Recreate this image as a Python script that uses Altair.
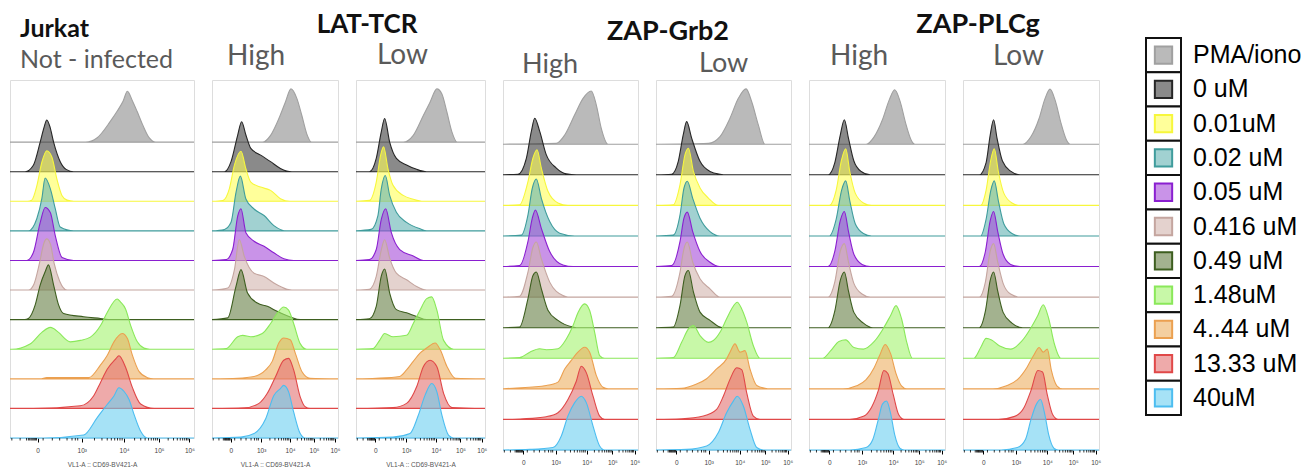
import math
import altair as alt
import pandas as pd

CONCENTRATIONS = ["PMA/iono", "0 uM", "0.01uM", "0.02 uM", "0.05 uM", "0.416 uM",
                  "0.49 uM", "1.48uM", "4..44 uM", "13.33 uM", "40uM"]
FILL_COLORS = ["#8c8c8c", "#3c3c3c", "#ffff57", "#62b3b3", "#a54bd9", "#d2b4ad",
               "#667f44", "#a3f36e", "#edaf61", "#e37171", "#6bcff0"]
STROKE_COLORS = ["#a0a0a0", "#262626", "#f7f73c", "#3f9c9c", "#8a1fd0", "#c4a59f",
                 "#3d5e1f", "#8ae85a", "#eba050", "#e04848", "#4cbdf0"]

TICK_POSITIONS = [15, 39, 62, 81, 97.5]
TICK_LABELS = ["0", "10³", "10⁴", "10⁵", "10⁶"]
AXIS_TITLE = "VL1-A :: CD69-BV421-A"
GROUP_TITLES = ["Jurkat", "LAT-TCR", "ZAP-Grb2", "ZAP-PLCg"]
SUB_TITLES = ["Not - infected", "High", "Low", "High", "Low", "High", "Low"]

# each curve: (x position in axis units 0-100, height in row units), rows in CONCENTRATIONS order
JURKAT = [
    [(41, 0), (47.4, 0.15), (54.6, 0.71), (58.3, 1.05), (61.5, 1.39), (63.8, 1.72), (66.5, 1.4), (69, 1.05), (72, 0.6), (75.6, 0.15), (79.2, 0)],
    [(8.2, 0), (12.7, 0.22), (16.4, 1.0), (18.5, 1.5), (20, 1.75), (21.8, 1.5), (23.7, 1.0), (27.3, 0.34), (30.5, 0.08), (34.6, 0)],
    [(9.5, 0), (11.8, 0.04), (14.6, 0.53), (17.3, 1.32), (20, 1.71), (22.8, 1.49), (25.5, 0.75), (28.3, 0.19), (31, 0.04), (34.6, 0)],
    [(10, 0), (14.6, 0.42), (17.3, 1.09), (19.1, 1.79), (21.9, 1.43), (24.6, 0.75), (27.3, 0.13), (34.6, 0)],
    [(9.1, 0), (12.7, 0.27), (16.4, 1.28), (19.1, 1.79), (21.9, 1.62), (24.6, 0.84), (28.3, 0.1), (34.6, 0)],
    [(10, 0), (13, 0.2), (16, 0.9), (18.5, 1.6), (20, 1.73), (22, 1.55), (24, 0.9), (27, 0.3), (31, 0)],
    [(8, 0), (10, 0.04), (13.7, 0.5), (16.4, 1.17), (19.1, 1.62), (20.9, 1.85), (23.7, 1.17), (26.4, 0.5), (29.1, 0.21), (40, 0.1), (49.2, 0.04), (55, 0)],
    [(0.9, 0), (10.9, 0.18), (17.3, 0.57), (21.9, 0.74), (23.7, 0.7), (26.4, 0.57), (32.8, 0.25), (38.3, 0.3), (43.7, 0.41), (49.2, 0.8), (52.9, 1.25), (58.3, 1.7), (60, 1.6), (62.8, 1.36), (65.6, 0.8), (69.2, 0.25), (72.8, 0.04), (76, 0)],
    [(16.4, 0), (20, 0.04), (42.8, 0.04), (49.2, 0.47), (52.9, 0.8), (56.5, 1.25), (61, 1.53), (63.8, 1.36), (66.5, 0.8), (70.1, 0.25), (74.7, 0.04), (78, 0)],
    [(12.7, 0), (38.3, 0.09), (45.5, 0.43), (49.2, 0.88), (52.9, 1.33), (57.4, 1.67), (59.2, 1.78), (62.8, 1.39), (66.5, 0.71), (71, 0.15), (78.3, 0)],
    [(18.2, 0), (40, 0.1), (47.4, 0.69), (52.9, 1.14), (56.5, 1.42), (59.2, 1.7), (61.9, 1.58), (64.7, 1.3), (67.4, 0.8), (71, 0.23), (74.7, 0)],
]

LAT_HIGH = [
    [(40, 0), (46.5, 0.23), (53, 0.79), (58.2, 1.35), (62.7, 1.8), (67.4, 1.47), (71.3, 0.9), (75.2, 0.28), (79, 0)],
    [(9.9, 0), (15.1, 0.34), (20.4, 1.24), (23.5, 1.69), (26.9, 1.24), (30.8, 0.79), (38.6, 0.56), (46.5, 0.34), (54.3, 0.11), (63.4, 0)],
    [(8.6, 0.03), (13.8, 0.43), (17.8, 1.22), (23, 1.69), (26.9, 1.1), (30.8, 0.65), (38.6, 0.48), (46.5, 0.37), (54.3, 0.09), (62, 0)],
    [(9.9, 0.05), (15.1, 0.29), (19.1, 1.31), (22.5, 1.85), (26.9, 1.08), (33.4, 0.74), (41.3, 0.52), (49.1, 0.18), (59.5, 0)],
    [(11.2, 0.03), (16.4, 0.37), (20.4, 1.5), (23, 1.75), (26.9, 0.94), (33.4, 0.65), (41.3, 0.48), (49.1, 0.26), (57, 0.06), (64.8, 0)],
    [(12.5, 0.07), (17.8, 0.69), (21.7, 1.7), (25.6, 1.14), (33.4, 0.57), (41.3, 0.46), (49.1, 0.24), (59.5, 0.03), (63.4, 0)],
    [(12.5, 0.06), (19.1, 1.13), (23, 1.69), (28.2, 0.9), (36, 0.56), (43.9, 0.45), (51.7, 0.28), (62.1, 0.09), (70, 0)],
    [(11.2, 0.02), (20.4, 0.42), (24.3, 0.47), (30.8, 0.42), (39.9, 0.53), (46.5, 0.87), (51.7, 1.21), (56.9, 1.43), (60.8, 1.32), (64.8, 0.87), (70, 0.19), (75.2, 0)],
    [(20.4, 0.02), (33.4, 0.08), (42.6, 0.3), (47.8, 0.59), (53, 1.21), (56.9, 1.38), (62.1, 1.32), (66.1, 0.87), (71.3, 0.25), (77.8, 0.02)],
    [(25.6, 0.02), (37.3, 0.17), (43.9, 0.51), (50.4, 1.07), (56.9, 1.63), (60.8, 1.69), (64.8, 1.3), (70, 0.39), (73.9, 0.06), (77.8, 0)],
    [(23, 0.03), (33.4, 0.15), (42.6, 0.65), (49.1, 1.44), (54.3, 1.67), (56.9, 1.78), (60.8, 1.56), (64.8, 0.88), (70, 0.15), (73.9, 0)],
]

LAT_LOW = [
    [(36.6, 0), (44.4, 0.23), (52.2, 0.9), (57.4, 1.35), (62.7, 1.8), (66.6, 1.63), (70.5, 1.01), (74.4, 0.34), (78.3, 0)],
    [(10.4, 0), (15.7, 0.45), (19.6, 1.35), (22.2, 1.8), (26.1, 1.0), (31.3, 0.45), (39.2, 0.23), (47, 0.08), (54.8, 0)],
    [(10.4, 0.03), (15.7, 0.65), (19.1, 1.56), (21.4, 1.84), (24.8, 1.1), (28.7, 0.54), (36.6, 0.2), (44.4, 0.07), (52.2, 0)],
    [(11.7, 0.05), (17, 0.52), (19.6, 1.42), (22.7, 1.87), (26.1, 1.2), (31.3, 0.63), (39.2, 0.29), (49.6, 0.07), (54.8, 0)],
    [(10.4, 0.03), (15.7, 0.37), (19.6, 1.39), (23, 1.75), (27.4, 0.94), (33.9, 0.37), (44.4, 0.15), (52.2, 0)],
    [(10.4, 0.03), (15.7, 0.46), (19.6, 1.36), (22.2, 1.7), (26.1, 1.08), (31.3, 0.57), (39.2, 0.35), (47, 0.12), (54.8, 0)],
    [(10.4, 0.03), (15.7, 0.45), (19.6, 1.47), (22.2, 1.71), (26.1, 0.9), (31.3, 0.34), (39.2, 0.23), (47, 0.11), (54.8, 0)],
    [(13.1, 0.02), (18.3, 0.3), (22.2, 0.53), (28.7, 0.42), (39.2, 0.47), (44.4, 0.87), (49.6, 1.32), (54.8, 1.71), (58.7, 1.77), (62.7, 1.32), (67.9, 0.3), (75.7, 0)],
    [(15.7, 0.02), (33.9, 0.08), (39.2, 0.3), (44.4, 0.59), (49.6, 0.87), (54.8, 1.04), (61.4, 1.21), (65.3, 0.98), (70.5, 0.42), (77, 0.02)],
    [(28.7, 0.03), (39.2, 0.17), (47, 0.73), (52.2, 1.41), (57.4, 1.63), (62.7, 1.41), (67.9, 0.51), (74.4, 0.03)],
    [(28.7, 0.03), (41.8, 0.15), (48.3, 0.77), (53.5, 1.44), (58.7, 1.84), (62.7, 1.56), (66.6, 0.77), (71.8, 0.09), (75.7, 0)],
]

GRB2_HIGH = [
    [(39.5, 0.03), (45.7, 0.3), (53.1, 0.96), (59.3, 1.5), (65.4, 1.74), (69.1, 1.29), (72.8, 0.52), (77.8, 0)],
    [(11.1, 0.02), (17.3, 0.54), (21, 1.42), (23.5, 1.85), (27.2, 1.42), (32.1, 0.65), (39.5, 0.22), (46.9, 0.03), (54.3, 0)],
    [(12.3, 0.02), (18.5, 0.78), (22.2, 1.55), (25.2, 1.82), (28.4, 1.22), (33.3, 0.46), (40.7, 0.08), (48.1, 0)],
    [(13.6, 0.03), (18.5, 0.69), (21.7, 1.56), (24.7, 1.86), (28.4, 1.23), (34.6, 0.47), (42, 0.09), (53.1, 0)],
    [(12.3, 0.03), (18.5, 0.82), (21.7, 1.58), (24, 1.85), (28.4, 1.25), (34.6, 0.49), (44.4, 0.05), (51.9, 0)],
    [(12.3, 0.03), (18.5, 0.82), (22.2, 1.63), (24.7, 1.8), (28.4, 1.25), (34.6, 0.49), (44.4, 0.05), (48.1, 0)],
    [(12.3, 0.02), (18.5, 0.95), (22.2, 1.71), (24.7, 1.82), (28.4, 1.27), (33.3, 0.57), (40.7, 0.24), (51.9, 0.02), (54.3, 0)],
    [(12.3, 0.02), (19.8, 0.2), (27.2, 0.31), (32.1, 0.28), (40.7, 0.31), (46.9, 0.63), (51.9, 1.07), (55.6, 1.5), (60.5, 1.78), (64.2, 1.56), (67.9, 0.85), (71.6, 0.09), (75.3, 0)],
    [(7.4, 0.02), (32.1, 0.11), (40.7, 0.22), (45.7, 0.65), (50.6, 0.93), (54.3, 1.14), (60.5, 1.36), (64.2, 1.2), (69.1, 0.44), (74.1, 0.05), (77.8, 0)],
    [(14.8, 0.02), (32.1, 0.09), (40.7, 0.22), (48.1, 0.65), (54.3, 1.25), (58, 1.74), (61.7, 1.53), (66.7, 0.76), (71.6, 0.11), (75.3, 0)],
    [(19.8, 0.02), (37, 0.08), (43.2, 0.46), (48.1, 1.11), (53.1, 1.55), (58, 1.76), (61.7, 1.55), (66.7, 0.78), (71.6, 0.13), (75.3, 0)],
]

GRB2_LOW = [
    [(38.8, 0.03), (47.4, 0.25), (54.8, 0.85), (61, 1.5), (66.7, 1.81), (70.9, 1.39), (75.8, 0.63), (80.7, 0)],
    [(11.6, 0.02), (16.5, 0.44), (20.2, 1.31), (22.7, 1.74), (26.4, 1.2), (32.6, 0.44), (40, 0.11), (47.4, 0.02), (52.3, 0)],
    [(12.8, 0.02), (17.8, 0.68), (21.5, 1.66), (24, 1.87), (27.7, 1.11), (32.6, 0.57), (38.8, 0.24), (46.2, 0)],
    [(12.8, 0.03), (17.8, 0.69), (20.7, 1.56), (23.2, 1.79), (27.2, 1.23), (32.6, 0.58), (40, 0.14), (47.4, 0)],
    [(11.6, 0.03), (17.8, 0.82), (20.7, 1.58), (23.2, 1.78), (27.2, 1.14), (32.6, 0.49), (40, 0.14), (47.4, 0)],
    [(11.6, 0.03), (17.8, 0.82), (20.7, 1.58), (23.2, 1.8), (27.2, 1.14), (32.6, 0.6), (40, 0.27), (47.4, 0)],
    [(12.8, 0.02), (17.8, 0.73), (21.5, 1.71), (24, 1.87), (27.7, 1.17), (32.6, 0.51), (40, 0.24), (47.4, 0.02), (49.9, 0)],
    [(12.8, 0.02), (19, 0.52), (24, 0.96), (27.7, 1.07), (32.6, 0.74), (38.8, 0.52), (42.5, 0.58), (47.4, 0.85), (52.3, 1.29), (56, 1.61), (60.2, 1.83), (63.5, 1.61), (67.2, 1.18), (72.1, 0.41), (77, 0)],
    [(19, 0.02), (30.1, 0.16), (37.5, 0.33), (44.9, 0.65), (52.3, 0.98), (54.8, 1.2), (58.5, 1.47), (62.2, 1.2), (65.9, 1.25), (69.6, 0.65), (74.6, 0.11), (80.7, 0.02), (84.4, 0)],
    [(19, 0.02), (35.1, 0.11), (44.9, 0.33), (49.9, 0.76), (54.8, 1.31), (59.8, 1.69), (63.5, 1.63), (67.2, 0.87), (72.1, 0.11), (77, 0)],
    [(22.7, 0.02), (37.5, 0.13), (46.2, 0.57), (52.3, 1.22), (57.3, 1.6), (60.2, 1.76), (64.7, 1.44), (69.6, 0.68), (74.6, 0.08), (79.5, 0)],
]

PLCG_HIGH = [
    [(42, 0), (48, 0.25), (54, 0.8), (59, 1.45), (63, 1.78), (67, 1.4), (71, 0.7), (75, 0.15), (78, 0)],
    [(14, 0), (19, 0.4), (23, 1.3), (26, 1.8), (29, 1.2), (33, 0.45), (38, 0.12), (45, 0)],
    [(15, 0), (20, 0.5), (24, 1.5), (27, 1.85), (30, 1.1), (34, 0.4), (40, 0.08), (46, 0)],
    [(15, 0), (20, 0.55), (24, 1.5), (27, 1.8), (30, 1.15), (34, 0.4), (40, 0.08), (46, 0)],
    [(14, 0), (19, 0.5), (23, 1.5), (26, 1.8), (29, 1.15), (33, 0.4), (39, 0.07), (45, 0)],
    [(14, 0), (19, 0.5), (23, 1.5), (26, 1.75), (29, 1.15), (33, 0.45), (39, 0.1), (45, 0)],
    [(14, 0), (19, 0.55), (23, 1.55), (26, 1.82), (29, 1.2), (33, 0.5), (40, 0.15), (47, 0)],
    [(10, 0), (16, 0.25), (22, 0.55), (27, 0.6), (33, 0.35), (40, 0.3), (48, 0.55), (55, 1.0), (60, 1.4), (64, 1.72), (68, 1.3), (72, 0.5), (76, 0)],
    [(25, 0), (35, 0.1), (42, 0.3), (48, 0.7), (52, 1.1), (56, 1.45), (60, 1.15), (64, 0.5), (68, 0.1), (72, 0)],
    [(30, 0), (40, 0.1), (46, 0.4), (51, 0.95), (55, 1.6), (58, 1.5), (62, 0.8), (66, 0.15), (70, 0)],
    [(30, 0), (42, 0.08), (47, 0.35), (51, 1.0), (54, 1.5), (57, 1.6), (60, 1.2), (63, 0.5), (67, 0.05), (70, 0)],
]

PLCG_LOW = [
    [(44, 0), (50, 0.25), (56, 0.85), (60, 1.45), (64, 1.8), (68, 1.4), (72, 0.7), (76, 0.15), (79, 0)],
    [(12, 0), (17, 0.4), (20, 1.3), (22.5, 1.8), (25, 1.2), (29, 0.45), (35, 0.12), (42, 0)],
    [(13, 0), (17, 0.5), (20.5, 1.5), (23, 1.85), (26, 1.1), (30, 0.4), (36, 0.08), (42, 0)],
    [(13, 0), (17, 0.55), (20.5, 1.5), (23, 1.8), (26, 1.15), (30, 0.4), (36, 0.08), (42, 0)],
    [(12, 0), (16.5, 0.5), (20, 1.5), (22.5, 1.8), (25.5, 1.15), (29.5, 0.4), (35, 0.07), (42, 0)],
    [(12, 0), (16.5, 0.5), (20, 1.5), (22.5, 1.75), (25.5, 1.15), (29.5, 0.45), (35, 0.1), (42, 0)],
    [(12, 0), (16.5, 0.55), (20, 1.55), (22.5, 1.82), (25.5, 1.2), (29.5, 0.5), (36, 0.15), (44, 0)],
    [(8, 0), (13, 0.35), (17, 0.65), (21, 0.6), (27, 0.4), (35, 0.3), (43, 0.55), (50, 1.0), (55, 1.4), (59, 1.75), (63, 1.3), (67, 0.5), (72, 0)],
    [(22, 0), (32, 0.1), (40, 0.3), (47, 0.7), (52, 1.1), (56, 1.35), (59, 1.2), (62, 1.3), (65, 0.6), (69, 0.1), (73, 0)],
    [(26, 0), (38, 0.1), (45, 0.4), (50, 0.95), (55, 1.6), (58.5, 1.55), (62, 0.8), (66, 0.15), (70, 0)],
    [(28, 0), (40, 0.08), (46, 0.35), (50, 1.0), (54, 1.5), (57, 1.65), (60, 1.2), (63, 0.5), (67, 0.05), (70, 0)],
]

# minor axis ticks (axis decoration, not data)
MINOR_TICKS = [1, 5.5, 9, 10, 10.7, 11.4, 12, 12.6, 13.2, 13.8, 14.4, 18, 23, 27, 31, 33.7, 35.5, 36.8]
for k in range(2, 10):
    MINOR_TICKS += [39 + 23 * math.log10(k), 62 + 19 * math.log10(k), 81 + 16.5 * math.log10(k)]

n = len(CONCENTRATIONS)
fill_scale = alt.Scale(domain=CONCENTRATIONS, range=FILL_COLORS)
stroke_scale = alt.Scale(domain=CONCENTRATIONS, range=STROKE_COLORS)
label_expr = ("[" + ",".join("'%s'" % t for t in TICK_LABELS) + "][indexof(["
              + ",".join(str(p) for p in TICK_POSITIONS) + "], datum.value)]")

BOLD = {"font": "Lato", "fontWeight": "bold", "color": "#111"}
GREY = {"font": "Lato", "fontWeight": "normal", "color": "#5a5a5a"}


def label_layer(text, x, y, size, style, align="left"):
    return alt.Chart(pd.DataFrame({"t": [text]})).mark_text(
        fontSize=size, align=align, baseline="alphabetic", **style).encode(
        x=alt.value(x), y=alt.value(y), text="t:N")


def make_panel(curves, width, height, with_title, labels):
    rows = []
    for r, (label, curve) in enumerate(zip(CONCENTRATIONS, curves)):
        base = n - 1 - r
        pts = [(0, 0)] + list(curve) + [(100, 0)]
        for x, h in pts:
            rows.append({"series": label, "order": r, "x": x, "y": base + h, "y0": base})
    df = pd.DataFrame(rows)
    xscale = alt.Scale(domain=[0, 100], nice=False, zero=False)
    axis = alt.Axis(values=TICK_POSITIONS, labelExpr=label_expr, domain=False,
                    ticks=True, tickSize=4, tickColor="#000", tickWidth=1,
                    labelFontSize=6.5, labelColor="#444", labelFont="Liberation Sans",
                    labelPadding=5, grid=False, labelAngle=0,
                    title=AXIS_TITLE if with_title else " ",
                    titleFontSize=6.5, titleFontWeight="normal", titleColor="#555",
                    titleFont="Liberation Sans", titlePadding=8)
    areas = alt.Chart(df).mark_area(interpolate="monotone", fillOpacity=0.6, strokeWidth=1.1).encode(
        x=alt.X("x:Q", scale=xscale, axis=axis),
        y=alt.Y("y:Q", scale=alt.Scale(domain=[0, 12.1], nice=False, zero=False), axis=None, stack=None),
        y2="y0:Q",
        fill=alt.Fill("series:N", scale=fill_scale, legend=None),
        stroke=alt.Stroke("series:N", scale=stroke_scale, legend=None),
    )
    minor = alt.Chart(pd.DataFrame({"x": MINOR_TICKS})).mark_rule(color="#000", strokeWidth=0.8).encode(
        x=alt.X("x:Q", scale=xscale, axis=axis),
        y=alt.value(height),
        y2=alt.value(height + 2.5),
    )
    layers = [areas, minor] + [label_layer(*lab) for lab in labels]
    return alt.layer(*layers).properties(width=width, height=height)


p1 = make_panel(JURKAT, 184, 358, True, [
    (GROUP_TITLES[0], 10, -43, 25, BOLD),
    (SUB_TITLES[0], 10, -12, 25, GREY)])
p2 = make_panel(LAT_HIGH, 126, 358, True, [
    (GROUP_TITLES[1], 155, -47, 26, BOLD, "center"),
    (SUB_TITLES[1], 15, -15, 28, GREY)])
p3 = make_panel(LAT_LOW, 129, 358, True, [
    (SUB_TITLES[2], 21, -16, 28, GREY)])
p4 = make_panel(GRB2_HIGH, 135, 370, False, [
    (GROUP_TITLES[2], 165, -40, 27, BOLD, "center"),
    (SUB_TITLES[3], 19, -7, 27, GREY)])
p5 = make_panel(GRB2_LOW, 135, 370, False, [
    (SUB_TITLES[4], 43, -8, 27, GREY)])
p6 = make_panel(PLCG_HIGH, 136, 370, False, [
    (GROUP_TITLES[3], 169, -47, 27, BOLD, "center"),
    (SUB_TITLES[5], 21, -15, 28, GREY)])
p7 = make_panel(PLCG_LOW, 136, 370, False, [
    (SUB_TITLES[6], 30, -15, 28, GREY)])

# legend panel
leg_df = pd.DataFrame({"label": CONCENTRATIONS, "k": list(range(n))})
leg_df["top"] = leg_df["k"] - 0.5
leg_df["bot"] = leg_df["k"] + 0.5
leg_y = alt.Scale(domain=[0.7256, 11.52], reverse=True, nice=False, zero=False)
cells = alt.Chart(leg_df).mark_rect(fill="white", stroke="#111", strokeWidth=2).encode(
    x=alt.value(29), x2=alt.value(64),
    y=alt.Y("top:Q", scale=leg_y, axis=None), y2="bot:Q")
swatch = alt.Chart(leg_df).mark_square(size=300, strokeWidth=2, fillOpacity=0.6, opacity=1).encode(
    x=alt.value(46.5), y=alt.Y("k:Q", scale=leg_y, axis=None),
    fill=alt.Fill("label:N", scale=fill_scale, legend=None),
    stroke=alt.Stroke("label:N", scale=stroke_scale, legend=None))
texts = alt.Chart(leg_df).mark_text(align="left", baseline="middle", fontSize=25,
                                    font="Liberation Sans", color="#000").encode(
    x=alt.value(76), y=alt.Y("k:Q", scale=leg_y, axis=None), text="label:N")
legend = alt.layer(cells, swatch, texts).properties(
    width=64, height=370, view=alt.ViewBackground(stroke="transparent"))

chart = alt.hconcat(p1, p2, p3, p4, p5, p6, p7, legend, spacing=18, bounds="flush").properties(
    padding={"left": 7, "top": 10, "right": 5, "bottom": 5}
).configure_view(stroke="#7d7d7d", strokeWidth=1).configure_axis(grid=False).configure(background="white")

chart.save("out.html", embed_options={"renderer": "svg", "actions": False})
